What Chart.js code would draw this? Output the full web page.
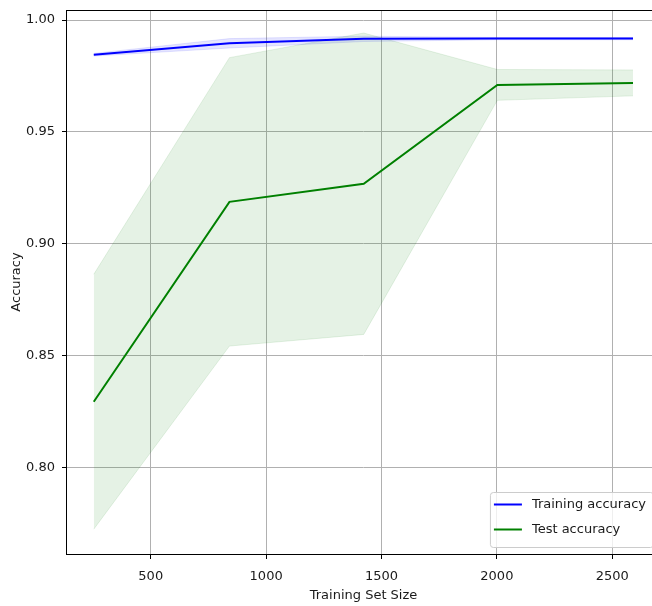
<!DOCTYPE html>
<html>
<head>
<meta charset="utf-8">
<title>Learning curve</title>
<script src="https://cdn.jsdelivr.net/npm/chart.js@4.4.1/dist/chart.umd.min.js"></script>
<style>
  html, body { margin: 0; padding: 0; background: #fff; overflow: hidden; }
  canvas { display: block; }
</style>
</head>
<body>
<canvas id="learningCurve" width="661" height="606"></canvas>
<script>
// Learning curve: mean accuracy per training set size, shaded +/- one std
const trainSizes = [253, 841, 1423, 2002, 2590];
const trainMean = [0.9845, 0.9896, 0.9916, 0.9917, 0.9917];
const trainStd = [0.0006, 0.0021, 0.0012, 0.0005, 0.0005];
const testMean = [0.8293, 0.9187, 0.9268, 0.9710, 0.9719];
const testStd = [0.0570, 0.0645, 0.0674, 0.0069, 0.0058];

const xTicks = [500, 1000, 1500, 2000, 2500];
const yTicks = [0.8, 0.85, 0.9, 0.95, 1.0];

const trainColor = "#0000ff";
const testColor = "#008000";
const textColor = "#1a1a1a";

Chart.defaults.font.family = "'DejaVu Sans', sans-serif";
Chart.defaults.font.size = 13;

const points = (ys) => trainSizes.map((x, i) => ({ x, y: ys[i] }));
const offsetBy = (mean, std, sign) => mean.map((m, i) => m + sign * std[i]);

// axes frame (matplotlib-style spines)
const frame = {
  id: "frame",
  afterDatasetsDraw(chart) {
    const { ctx, chartArea: a } = chart;
    ctx.save();
    ctx.strokeStyle = "#000";
    ctx.lineWidth = 1;
    ctx.strokeRect(a.left - 0.5, a.top + 0.5, a.right - a.left, a.bottom - a.top);
    ctx.restore();
  },
};

// legend boxed inside the plot, lower right
const insideLegend = {
  id: "insideLegend",
  afterDraw(chart) {
    const { ctx, chartArea: a } = chart;
    const items = [
      { label: "Training accuracy", color: trainColor },
      { label: "Test accuracy", color: testColor },
    ];
    ctx.save();
    ctx.font = "13px 'DejaVu Sans'";
    const textW = Math.max(...items.map((it) => ctx.measureText(it.label).width));
    const w = 42 + textW + 7;
    const h = 55;
    const x = a.right - 7 - w;
    const y = a.bottom - 7 - h;

    ctx.beginPath();
    ctx.roundRect(x + 0.5, y + 0.5, w, h, 3);
    ctx.fillStyle = "rgba(255,255,255,0.8)";
    ctx.fill();
    ctx.strokeStyle = "#cccccc";
    ctx.lineWidth = 1;
    ctx.stroke();

    items.forEach((it, i) => {
      const cy = y + 12.5 + i * 25;
      ctx.strokeStyle = it.color;
      ctx.lineWidth = 2;
      ctx.beginPath();
      ctx.moveTo(x + 4, cy);
      ctx.lineTo(x + 32, cy);
      ctx.stroke();
      ctx.fillStyle = textColor;
      ctx.textBaseline = "middle";
      ctx.fillText(it.label, x + 42, cy);
    });
    ctx.restore();
  },
};

const bandStyle = (rgba) => ({
  borderColor: rgba,
  backgroundColor: rgba,
  borderWidth: 1,
  pointRadius: 0,
  tension: 0,
});

new Chart(document.getElementById("learningCurve"), {
  type: "line",
  data: {
    datasets: [
      {
        label: "Training accuracy",
        data: points(trainMean),
        borderColor: trainColor,
        borderWidth: 2,
        pointRadius: 0,
        tension: 0,
        fill: false,
        order: 1,
      },
      {
        label: "Test accuracy",
        data: points(testMean),
        borderColor: testColor,
        borderWidth: 2,
        pointRadius: 0,
        tension: 0,
        fill: false,
        order: 0,
      },
      // +/- std bands
      { data: points(offsetBy(trainMean, trainStd, -1)), fill: false, order: 3, ...bandStyle("rgba(0,0,255,0.1)") },
      { data: points(offsetBy(trainMean, trainStd, 1)), fill: 2, order: 3, ...bandStyle("rgba(0,0,255,0.1)") },
      { data: points(offsetBy(testMean, testStd, -1)), fill: false, order: 2, ...bandStyle("rgba(0,128,0,0.1)") },
      { data: points(offsetBy(testMean, testStd, 1)), fill: 4, order: 2, ...bandStyle("rgba(0,128,0,0.1)") },
    ],
  },
  options: {
    responsive: false,
    animation: false,
    events: [],
    layout: { padding: { top: 10, right: 1, left: 0, bottom: 0 } },
    plugins: {
      legend: { display: false },
      tooltip: { enabled: false },
    },
    scales: {
      x: {
        type: "linear",
        min: 137,
        max: 2707,
        afterBuildTicks: (axis) => {
          axis.ticks = xTicks.map((v) => ({ value: v }));
        },
        afterFit: (axis) => {
          axis.height = 52;
          axis.paddingLeft = 0;
          axis.paddingRight = 0;
        },
        grid: { color: "#b0b0b0", lineWidth: 1, tickLength: 5, tickColor: "#000", tickWidth: 1 },
        border: { display: false },
        ticks: {
          color: textColor,
          padding: 10,
          maxRotation: 0,
          autoSkip: false,
          callback: (v) => String(v),
        },
        title: {
          display: true,
          text: "Training Set Size",
          color: textColor,
          padding: { top: 0, bottom: 3 },
        },
      },
      y: {
        type: "linear",
        min: 0.7612,
        max: 1.0045,
        afterBuildTicks: (axis) => {
          axis.ticks = yTicks.map((v) => ({ value: v }));
        },
        afterFit: (axis) => {
          axis.width = 67;
          axis.paddingTop = 0;
          axis.paddingBottom = 0;
        },
        grid: { color: "#b0b0b0", lineWidth: 1, tickLength: 5, tickColor: "#000", tickWidth: 1 },
        border: { display: false },
        ticks: {
          color: textColor,
          padding: 7,
          callback: (v) => v.toFixed(2),
        },
        title: {
          display: true,
          text: "Accuracy",
          color: textColor,
          padding: { top: 9, bottom: 0 },
        },
      },
    },
  },
  plugins: [frame, insideLegend],
});
</script>
</body>
</html>
